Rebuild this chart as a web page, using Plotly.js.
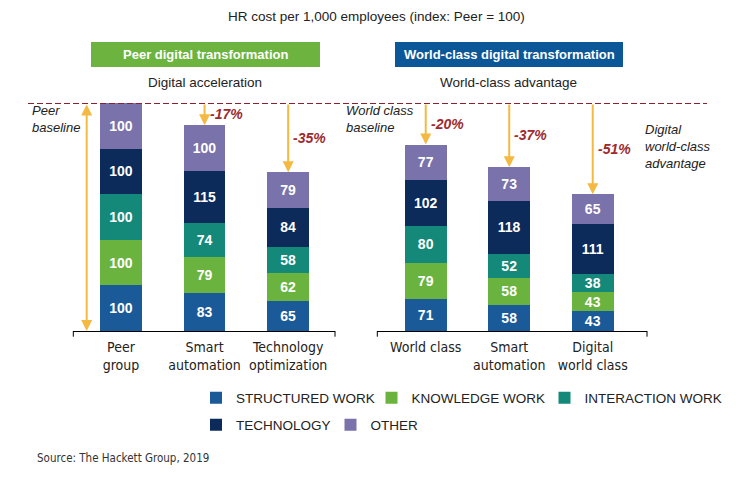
<!DOCTYPE html>
<html>
<head>
<meta charset="utf-8">
<script src="https://cdn.plot.ly/plotly-3.0.1.min.js"></script>
<style>
  html, body { margin: 0; padding: 0; background: #fff; }
  #chart { width: 756px; height: 478px; }
</style>
</head>
<body>
<div id="chart"></div>
<script>
// ---------- data ----------
const peerCats = ["Peer<br>group", "Smart<br>automation", "Technology<br>optimization"];
const worldCats = ["World class", "Smart<br>automation", "Digital<br>world class"];

const structuredPeer = [100, 83, 65];
const structuredWorld = [71, 58, 43];
const knowledgePeer = [100, 79, 62];
const knowledgeWorld = [79, 58, 43];
const interactionPeer = [100, 74, 58];
const interactionWorld = [80, 52, 38];
const technologyPeer = [100, 115, 84];
const technologyWorld = [102, 118, 111];
const otherPeer = [100, 100, 79];
const otherWorld = [77, 73, 65];

const peerChange = ["", "-17%", "-35%"];
const worldChange = ["-20%", "-37%", "-51%"];

// ---------- style ----------
const COLORS = {
    structured: "#1b5a98", knowledge: "#6bb33f", interaction: "#14897a",
    technology: "#0c2b5b", other: "#7a72ab",
    arrow: "#f4b942", red: "#9c2a2e", dashed: "#8a2030",
    greenBox: "#6cb33f", blueBox: "#0c5797", text: "#222",
};
const SANS = "'Liberation Sans', Arial, Helvetica, sans-serif";
const NARROW = "'Liberation Sans Narrow', 'Arial Narrow', 'DejaVu Sans Condensed', sans-serif";

const W = 756, PLOT_TOP = 103, PLOT_BOTTOM = 331;
const px = (x) => x / W;
const py = (y) => (PLOT_BOTTOM - y) / (PLOT_BOTTOM - PLOT_TOP);

// each legend entry sits in its own legend so the rows keep their natural spacing
const series = [
    { name: "STRUCTURED WORK", color: COLORS.structured, peer: structuredPeer, world: structuredWorld, legend: "legend" },
    { name: "KNOWLEDGE WORK", color: COLORS.knowledge, peer: knowledgePeer, world: knowledgeWorld, legend: "legend2" },
    { name: "INTERACTION WORK", color: COLORS.interaction, peer: interactionPeer, world: interactionWorld, legend: "legend3" },
    { name: "TECHNOLOGY", color: COLORS.technology, peer: technologyPeer, world: technologyWorld, legend: "legend4" },
    { name: "OTHER", color: COLORS.other, peer: otherPeer, world: otherWorld, legend: "legend5" },
];

function barTrace(s, cats, vals, xaxis, showlegend) {
    return {
        type: "bar", x: cats, y: vals, name: s.name, xaxis, yaxis: "y",
        marker: { color: s.color, line: { width: 0 } },
        legend: s.legend, showlegend,
        text: vals.map(String), textposition: "inside", insidetextanchor: "middle",
        textangle: 0, constraintext: "none",
        textfont: { family: SANS, size: 14, color: "#fff", weight: "bold" },
        hoverinfo: "skip",
    };
}

const traces = [];
series.forEach((s) => {
    traces.push(barTrace(s, peerCats, s.peer, "x", true));
    traces.push(barTrace(s, worldCats, s.world, "x2", false));
});

const peerTotals = peerCats.map((_, i) => series.reduce((a, s) => a + s.peer[i], 0));
const worldTotals = worldCats.map((_, i) => series.reduce((a, s) => a + s.world[i], 0));
const baseline = peerTotals[0];

// ---------- annotations ----------
const annotations = [];
function arrow(xref, i, top, bottom, both) {
    annotations.push({
        xref, yref: "y", x: i, y: bottom, axref: xref, ayref: "y", ax: i, ay: top,
        text: "", showarrow: true, arrowhead: 2, arrowsize: 1.1, arrowwidth: 2,
        arrowcolor: COLORS.arrow, arrowside: both ? "end+start" : "end",
    });
}
function change(xref, i, total, label) {
    if (!label) return;
    annotations.push({
        xref, yref: "y", x: i, y: (baseline + total) / 2, xanchor: "left", yanchor: "middle",
        xshift: 3, showarrow: false, text: `<b><i>${label}</i></b>`,
        font: { family: SANS, size: 14, color: COLORS.red },
    });
}
peerTotals.forEach((t, i) => { if (i > 0) arrow("x", i, baseline, t); change("x", i, t, peerChange[i]); });
worldTotals.forEach((t, i) => { arrow("x2", i, baseline, t); change("x2", i, t, worldChange[i]); });
arrow("x", -0.41, baseline, 0, true);

function note(x, y, text, opts) {
    annotations.push(Object.assign({
        xref: "paper", yref: "paper", x: px(x), y: py(y), text, showarrow: false,
        xanchor: "left", yanchor: "middle", align: "left",
        font: { family: SANS, size: 13, color: COLORS.text },
    }, opts || {}));
}
const big = { family: SANS, size: 13.5, color: COLORS.text };
note(376, 16, "HR cost per 1,000 employees (index: Peer = 100)", { xanchor: "center", font: big });
note(205.5, 54.5, "<b>Peer digital transformation</b>", { xanchor: "center", font: { family: SANS, size: 13, color: "#fff" } });
note(509, 54.5, "<b>World-class digital transformation</b>", { xanchor: "center", font: { family: SANS, size: 13, color: "#fff" } });
note(205.5, 82, "Digital acceleration", { xanchor: "center", font: big });
note(508, 82, "World-class advantage", { xanchor: "center", font: big });
note(30, 119, "<i>Peer<br>baseline</i>");
note(344, 119, "<i>World class<br>baseline</i>");
note(643, 146, "<i>Digital<br>world-class<br>advantage</i>");
note(35, 458, "Source: The Hackett Group, 2019", { font: { family: NARROW, size: 11.5, color: "#333" } });

// ---------- shapes ----------
const shapes = [
    { type: "rect", xref: "paper", yref: "paper", x0: px(91), x1: px(320), y0: py(42), y1: py(67), fillcolor: COLORS.greenBox, line: { width: 0 } },
    { type: "rect", xref: "paper", yref: "paper", x0: px(395), x1: px(623), y0: py(42), y1: py(67), fillcolor: COLORS.blueBox, line: { width: 0 } },
    { type: "line", xref: "paper", yref: "y", x0: px(28), x1: px(707), y0: baseline, y1: baseline, line: { color: COLORS.dashed, width: 2, dash: "6px,3px" } },
];
["x domain", "x2 domain"].forEach((ref) => {
    [0, 1].forEach((v) => shapes.push({
        type: "line", xref: ref, yref: "y domain", x0: v, x1: v, y0: 0, y1: -0.025,
        line: { color: "#000", width: 1 },
    }));
});

const xaxisBase = {
    type: "category", showline: true, linecolor: "#000", linewidth: 1,
    ticks: "", showgrid: false, zeroline: false, fixedrange: true, anchor: "y",
    ticklabelstandoff: 3,
    tickfont: { family: NARROW, size: 14, color: COLORS.text },
};
function legendAt(textX, rowY) {
    return {
        orientation: "h", xanchor: "left", yanchor: "middle", x: px(textX - 39), y: py(rowY),
        bgcolor: "rgba(0,0,0,0)", font: { family: SANS, size: 13.5, color: COLORS.text },
        itemclick: false, itemdoubleclick: false,
    };
}

const layout = {
    width: 756, height: 478,
    margin: { l: 0, r: 0, t: PLOT_TOP, b: 478 - PLOT_BOTTOM, autoexpand: false },
    paper_bgcolor: "#fff", plot_bgcolor: "rgba(0,0,0,0)",
    barmode: "stack", bargap: 0.5,
    xaxis: Object.assign({}, xaxisBase, { domain: [px(73.3), px(335)], range: [-0.57, 2.56] }),
    xaxis2: Object.assign({}, xaxisBase, { domain: [px(377.3), px(647)], range: [-0.58, 2.65] }),
    yaxis: { range: [0, baseline], visible: false, fixedrange: true },
    legend: legendAt(235, 398),
    legend2: legendAt(410.5, 398),
    legend3: legendAt(583.5, 398),
    legend4: legendAt(235, 425),
    legend5: legendAt(369.5, 425),
    shapes, annotations,
    font: { family: SANS, color: COLORS.text },
};

Plotly.newPlot("chart", traces, layout, { displayModeBar: false, staticPlot: true });
</script>
</body>
</html>
